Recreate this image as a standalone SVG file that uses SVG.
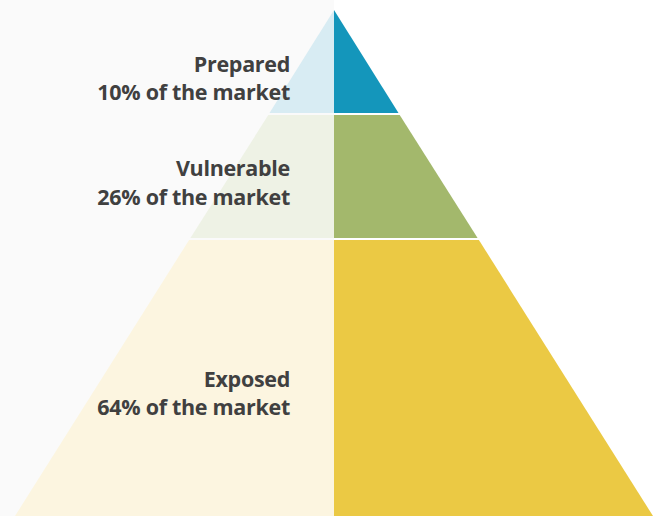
<svg xmlns="http://www.w3.org/2000/svg" width="658" height="516" viewBox="0 0 658 516">
<style>
.lbl{font-family:"Open Sans","Liberation Sans",sans-serif;font-weight:bold;font-size:21.5px;fill:#404040;text-anchor:end;letter-spacing:-0.3px}
</style>
<rect x="0" y="0" width="658" height="516" fill="#ffffff"/>
<rect x="0" y="0" width="334" height="516" fill="#fafafa"/>
<g id="prepared">
<polygon points="334,10 334,113 269.5,113" fill="#d8ecf3"/>
<polygon points="334,10 334,113 398.5,113" fill="#1496bb"/>
<text class="lbl" x="290" y="72">Prepared</text>
<text class="lbl" x="290" y="100">10% of the market</text>
</g>
<g id="vulnerable">
<polygon points="334,115 334,238 190.4,238 268.3,115" fill="#eef2e5"/>
<polygon points="334,115 334,238 477.6,238 399.7,115" fill="#a3b86c"/>
<text class="lbl" x="290" y="176">Vulnerable</text>
<text class="lbl" x="290" y="205">26% of the market</text>
</g>
<g id="exposed">
<polygon points="334,240 334,516 15,516 189.1,240" fill="#fcf5e0"/>
<polygon points="334,240 334,516 653,516 478.9,240" fill="#ebc944"/>
<text class="lbl" x="290" y="387">Exposed</text>
<text class="lbl" x="290" y="415">64% of the market</text>
</g>
<g id="connectors"></g>
</svg>
